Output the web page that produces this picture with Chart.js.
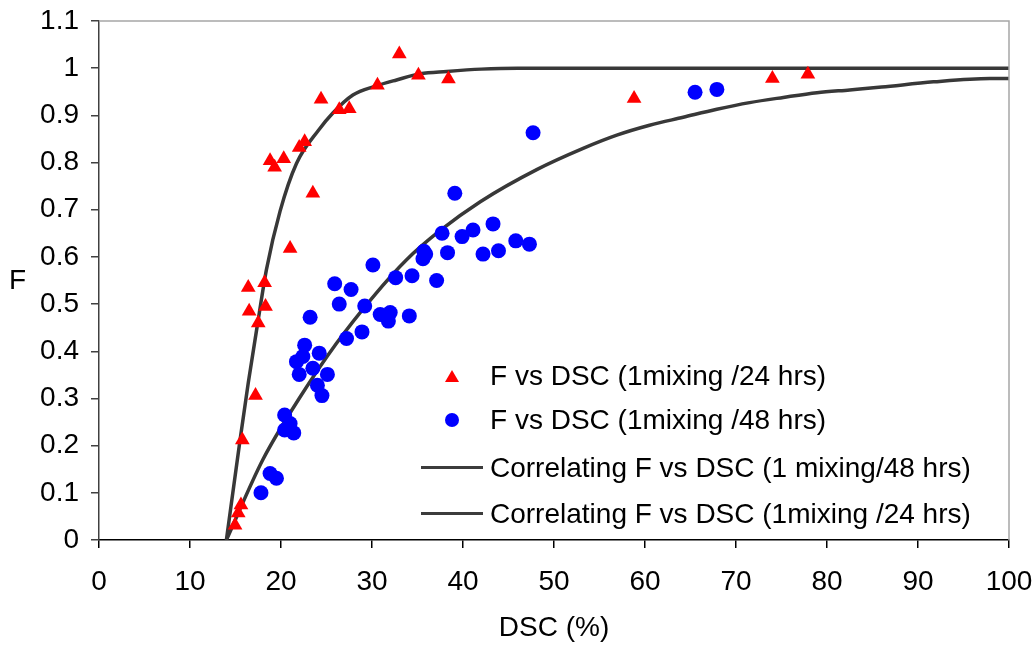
<!DOCTYPE html>
<html>
<head>
<meta charset="utf-8">
<script src="https://cdn.jsdelivr.net/npm/chart.js@4.4.1/dist/chart.umd.min.js"></script>
<style>
  body { margin: 0; background: #fff; }
  #wrap { position: relative; width: 1036px; height: 645px; font-family: "Liberation Sans", Arial, sans-serif; }
  #chart { position: absolute; left: 0; top: 0; }
  .ytitle { position: absolute; left: 9px; top: 264px; font-size: 28px; line-height: 32px; }
  .legend { position: absolute; left: 421px; top: 360px; font-size: 28px; }
  .row { position: absolute; left: 0; height: 32px; display: flex; align-items: center; white-space: nowrap; }
  .mark { width: 62px; height: 32px; position: relative; margin-right: 7px; }
  .tri { position: absolute; left: 24px; top: 10px; width: 0; height: 0;
         border-left: 7px solid transparent; border-right: 7px solid transparent; border-bottom: 12px solid #ff0000; }
  .dot { position: absolute; left: 24px; top: 9px; width: 14px; height: 14px; border-radius: 50%; background: #0000ff; }
  .seg { position: absolute; left: 0; top: 14px; width: 62px; height: 3px; background: #3c3c3c; }
</style>
</head>
<body>
<div id="wrap">
  <canvas id="chart" width="1036" height="645"></canvas>
  <div class="ytitle">F</div>
  <div class="legend">
    <div class="row" style="top:0px"><div class="mark"><div class="tri"></div></div>F vs DSC (1mixing /24 hrs)</div>
    <div class="row" style="top:44px"><div class="mark"><div class="dot"></div></div>F vs DSC (1mixing /48 hrs)</div>
    <div class="row" style="top:92px"><div class="mark"><div class="seg"></div></div>Correlating F vs DSC (1 mixing/48 hrs)</div>
    <div class="row" style="top:138px"><div class="mark"><div class="seg"></div></div>Correlating F vs DSC (1mixing /24 hrs)</div>
  </div>
</div>
<script>
// measured points, 1 mixing / 24 hrs
const dsc24 = [14.95, 15.3, 15.6, 15.75, 17.2, 17.5, 16.5, 18.3, 16.4, 18.2, 21.0, 23.5, 19.3, 18.8,
  20.3, 22.0, 22.6, 24.4, 26.4, 27.5, 30.6, 33.0, 35.1, 38.4, 58.8, 74.0, 77.9];
const f24 = [0.031, 0.057, 0.074, 0.212, 0.306, 0.46, 0.485, 0.495, 0.535, 0.545, 0.618, 0.735, 0.79, 0.804,
  0.808, 0.832, 0.844, 0.934, 0.912, 0.914, 0.964, 1.03, 0.985, 0.977, 0.936, 0.978, 0.987];

// measured points, 1 mixing / 48 hrs
const dsc48 = [17.8, 18.8, 19.5, 20.4, 21.0, 20.4, 21.4, 22.6, 24.2, 21.7, 22.4, 23.5, 22.0, 25.1, 24.0,
  24.5, 23.2, 27.2, 28.9, 25.9, 27.7, 26.4, 29.2, 30.1, 30.9, 32.0, 31.8, 34.1, 32.6, 34.4, 35.7, 35.6,
  35.9, 37.1, 37.7, 38.3, 39.1, 39.9, 41.1, 43.3, 42.2, 43.9, 45.8, 47.3, 47.7, 65.5, 67.9];
const f48 = [0.10, 0.141, 0.131, 0.265, 0.247, 0.233, 0.227, 0.413, 0.396, 0.378, 0.389, 0.364, 0.351, 0.351, 0.328,
  0.306, 0.472, 0.427, 0.441, 0.543, 0.531, 0.50, 0.496, 0.583, 0.478, 0.482, 0.464, 0.475, 0.556, 0.56, 0.612, 0.596,
  0.606, 0.55, 0.65, 0.609, 0.735, 0.643, 0.657, 0.67, 0.606, 0.613, 0.634, 0.627, 0.863, 0.949, 0.955];

// correlating curves
const fitDsc24 = [14, 15.5, 16.4, 17.5, 18.4, 19.9, 21.7, 24.1, 25.7, 27.9, 30.4, 32.7, 35.3, 38.2, 42, 46, 100];
const fitF24 = [0, 0.212, 0.333, 0.467, 0.573, 0.697, 0.798, 0.868, 0.905, 0.943, 0.962, 0.975, 0.988, 0.993, 0.998, 1.0, 1.0];
const fitDsc48 = [14, 18, 22.1, 26.1, 30.1, 33.8, 37.5, 41.9, 48.1, 53.2, 56.9, 60.5, 64.2, 67.9, 71.5, 75.2,
  78.9, 82.5, 86, 91.7, 97.9, 100];
const fitF48 = [0, 0.17, 0.303, 0.417, 0.515, 0.594, 0.656, 0.717, 0.785, 0.83, 0.858, 0.879, 0.896, 0.913, 0.927, 0.938,
  0.948, 0.954, 0.96, 0.971, 0.978, 0.978];

const xTicks = [0, 10, 20, 30, 40, 50, 60, 70, 80, 90, 100];
const yTicks = [0, 0.1, 0.2, 0.3, 0.4, 0.5, 0.6, 0.7, 0.8, 0.9, 1, 1.1];

const toPoints = (xs, ys) => xs.map((x, i) => ({ x: x, y: ys[i] }));

Chart.defaults.font.family = '"Liberation Sans", Arial, sans-serif';
Chart.defaults.color = "#000";

const frame = {
  id: "frame",
  afterDraw(chart) {
    const { ctx, chartArea } = chart;
    ctx.save();
    ctx.strokeStyle = "#a6a6a6";
    ctx.lineWidth = 1.5;
    ctx.beginPath();
    ctx.moveTo(chartArea.left, chartArea.top);
    ctx.lineTo(chartArea.right, chartArea.top);
    ctx.lineTo(chartArea.right, chartArea.bottom);
    ctx.stroke();
    ctx.restore();
  },
};

const lineStyle = {
  showLine: true,
  pointRadius: 0,
  borderColor: "#383838",
  borderWidth: 3.5,
  cubicInterpolationMode: "monotone",
  order: 2,
};

new Chart(document.querySelector("#chart"), {
  type: "scatter",
  data: {
    datasets: [
      {
        label: "F vs DSC (1mixing /24 hrs)",
        data: toPoints(dsc24, f24),
        pointStyle: "triangle",
        pointRadius: 8.5,
        backgroundColor: "#ff0000",
        borderWidth: 0,
        order: 1,
      },
      {
        label: "F vs DSC (1mixing /48 hrs)",
        data: toPoints(dsc48, f48),
        pointStyle: "circle",
        pointRadius: 7.5,
        backgroundColor: "#0000ff",
        borderWidth: 0,
        order: 1,
      },
      { label: "Correlating F vs DSC (1 mixing/48 hrs)", data: toPoints(fitDsc48, fitF48), ...lineStyle },
      { label: "Correlating F vs DSC (1mixing /24 hrs)", data: toPoints(fitDsc24, fitF24), ...lineStyle },
    ],
  },
  options: {
    responsive: false,
    animation: false,
    layout: { padding: { top: 21, right: 27, left: 0, bottom: 0 } },
    plugins: { legend: { display: false }, tooltip: { enabled: false } },
    scales: {
      x: {
        min: 0,
        max: 100,
        afterBuildTicks: (scale) => { scale.ticks = xTicks.map((v) => ({ value: v })); },
        afterFit: (scale) => {
          scale.height = 105;
          scale.paddingLeft = 0;
          scale.paddingRight = 0;
        },
        grid: { drawOnChartArea: false, tickLength: 8, color: "#000", lineWidth: 1.5 },
        border: { color: "#000", width: 1.5 },
        ticks: { font: { size: 28 }, padding: 17, maxRotation: 0 },
        title: { display: true, text: "DSC (%)", font: { size: 28 }, padding: { top: 5, bottom: 0 } },
      },
      y: {
        min: 0,
        max: 1.1,
        afterBuildTicks: (scale) => { scale.ticks = yTicks.map((v) => ({ value: v })); },
        afterFit: (scale) => {
          scale.width = 99;
          scale.paddingTop = 0;
          scale.paddingBottom = 0;
        },
        grid: { drawOnChartArea: false, tickLength: 8, color: "#404040", lineWidth: 1.5 },
        border: { color: "#404040", width: 1.5 },
        ticks: { font: { size: 28 }, padding: 12, callback: (v) => String(Math.round(v * 10) / 10) },
      },
    },
  },
  plugins: [frame],
});
</script>
</body>
</html>
